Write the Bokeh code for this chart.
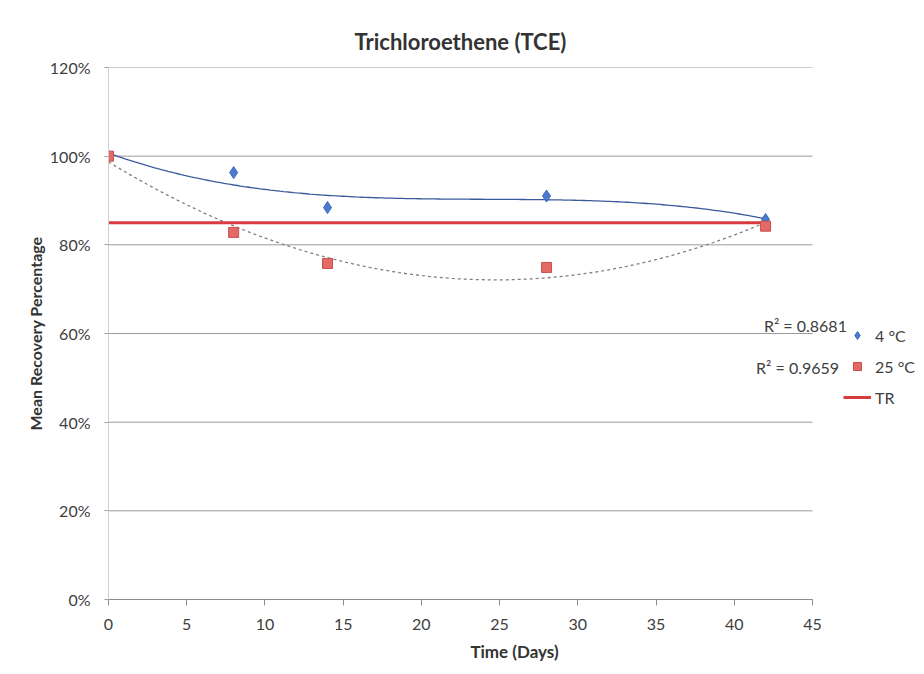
import numpy as np
from bokeh.plotting import figure
from bokeh.models import (Range1d, NumeralTickFormatter, Legend, LegendItem,
                          Label, FixedTicker)
from bokeh.embed import file_html
from bokeh.resources import INLINE

# ---- data ----
days = [0, 8, 14, 28, 42]
rec_4c = [1.000, 0.963, 0.884, 0.910, 0.857]
rec_25c = [1.000, 0.828, 0.758, 0.749, 0.842]
tr_days = [0, 42]
tr_value = [0.85, 0.85]
x_ticks = [0, 5, 10, 15, 20, 25, 30, 35, 40, 45]
y_ticks = [0, 0.2, 0.4, 0.6, 0.8, 1.0, 1.2]
r2_4c = "R² = 0.8681"
r2_25c = "R² = 0.9659"
labels = ["4 °C", "25 °C", "TR"]

FONT = "Lato"
TXT = "#404040"

W, H = 920, 672
LEFT, RIGHT, TOP, BOTTOM = 108, 0, 67, 73
PLOT_W = 704  # pixel width of the 0..45 span
frame_w = W - LEFT - RIGHT
x_end = x_ticks[-1] * frame_w / PLOT_W   # room on the right for legend / R² texts

p = figure(width=W, height=H, output_backend="svg", toolbar_location=None,
           x_range=Range1d(0, x_end), y_range=Range1d(0, 1.2),
           min_border_left=LEFT, min_border_right=RIGHT,
           min_border_top=TOP, min_border_bottom=BOTTOM,
           title="Trichloroethene (TCE)")
p.outline_line_color = None
p.background_fill_color = "white"
p.border_fill_color = "white"

p.title.text_font = FONT
p.title.text_font_size = "22px"
p.title.text_font_style = "bold"
p.title.text_color = "#333333"
p.title.standoff = 25
p.title.align = "left"
p.title.offset = 246  # centres the title over the 0..45 span

# axes
p.xaxis.ticker = FixedTicker(ticks=x_ticks)
p.xaxis.bounds = (x_ticks[0], x_ticks[-1])
p.yaxis.ticker = FixedTicker(ticks=y_ticks)
p.yaxis.formatter = NumeralTickFormatter(format="0%")
for ax in (p.xaxis, p.yaxis):
    ax.major_label_text_font = FONT
    ax.major_label_text_font_size = "16px"
    ax.major_label_text_color = TXT
    ax.axis_label_text_font = FONT
    ax.axis_label_text_font_size = "16px"
    ax.axis_label_text_font_style = "bold"
    ax.axis_label_text_color = "#333333"
    ax.minor_tick_line_color = None
    ax.major_tick_in = 0
p.xaxis.axis_label = "Time (Days)"
p.xaxis.axis_label_text_font_size = "17px"
p.yaxis.axis_label = "Mean Recovery Percentage"
p.xaxis.axis_line_color = "#8c8c8c"
p.xaxis.major_tick_line_color = "#8c8c8c"
p.xaxis.major_tick_out = 6
p.xaxis.major_label_standoff = 13
p.xaxis.axis_label_standoff = 8
p.yaxis.axis_line_color = "#d0d0d0"
p.yaxis.major_tick_line_color = "#a0a0a0"
p.yaxis.major_tick_out = 4
p.yaxis.major_label_standoff = 14
p.yaxis.axis_label_standoff = 2

# horizontal gridlines limited to the 0..45 span
p.xgrid.grid_line_color = None
p.ygrid.grid_line_color = None
n = len(y_ticks)
p.segment(x0=[x_ticks[0]] * n, y0=y_ticks, x1=[x_ticks[-1]] * n, y1=y_ticks,
          line_color="#9a9a9a", line_width=1)

# trendlines (fitted from the data, as Excel does)
xs = np.linspace(days[0], days[-1], 200)
c4 = np.polyfit(days, rec_4c, 3)
c25 = np.polyfit(days, rec_25c, 2)
p.line(xs, np.polyval(c4, xs), line_color="#3a5a9c", line_width=1.3)
p.line(xs, np.polyval(c25, xs), line_color="#7f7f7f", line_width=1.3,
       line_dash="3 3")

# TR line
r_tr = p.line(tr_days, tr_value, line_color="#d83b3f", line_width=3)

# data points
r4 = p.scatter(days, rec_4c, marker="diamond", size=12,
               fill_color="#4a7bd0", line_color="#3e68b8")
r25 = p.scatter(days, rec_25c, marker="square", size=10,
                fill_color="#e36a66", line_color="#c8504c")

legend = Legend(items=[LegendItem(label=labels[0], renderers=[r4]),
                       LegendItem(label=labels[1], renderers=[r25]),
                       LegendItem(label=labels[2], renderers=[r_tr])],
                location=(735, 192), orientation="vertical",
                background_fill_alpha=0, border_line_alpha=0,
                padding=0, margin=0, spacing=11,
                glyph_width=28, glyph_height=20, label_height=20,
                label_standoff=4,
                label_text_font=FONT, label_text_font_size="16px",
                label_text_color=TXT)
p.add_layout(legend)

for txt, xv, yv in ((r2_4c, 47.2, 0.618), (r2_25c, 46.7, 0.523)):
    p.add_layout(Label(x=xv, y=yv, text=txt, text_align="right",
                       text_baseline="middle", text_font=FONT,
                       text_font_size="16px", text_color=TXT))

open("out.html", "w").write(file_html(p, INLINE))
